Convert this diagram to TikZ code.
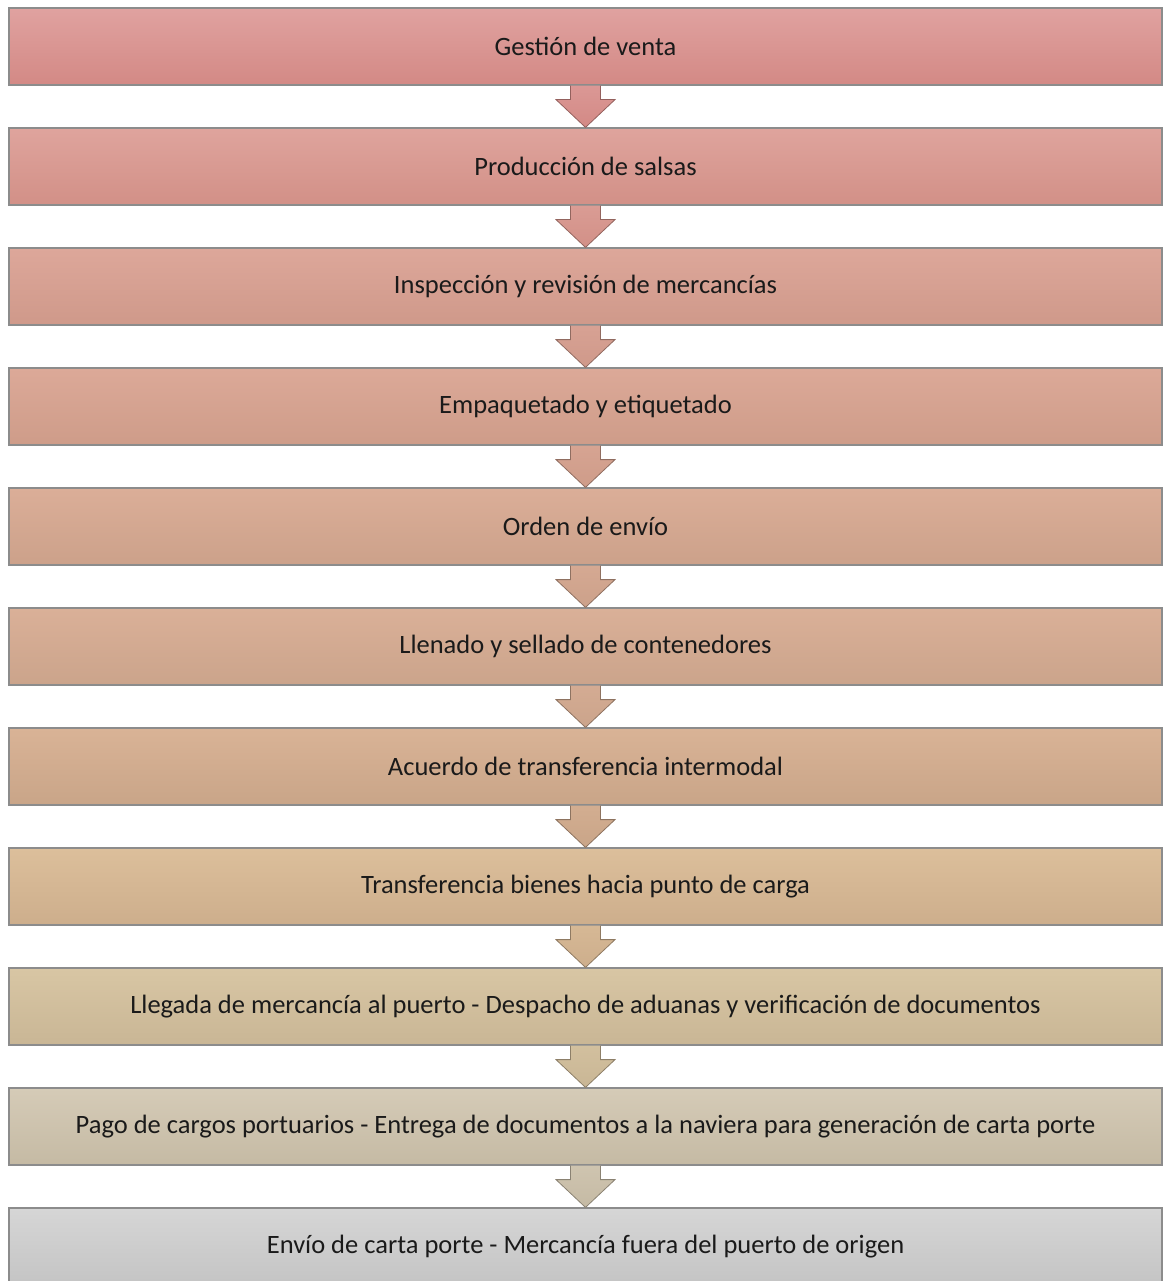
\documentclass[tikz,border=0pt]{standalone}
\usepackage{fontspec}
\setmainfont{Carlito}
\usetikzlibrary{calc,shadings}
\definecolor{tA}{HTML}{E0A2A0}\definecolor{bA}{HTML}{D38985}
\definecolor{tB}{HTML}{DFA49D}\definecolor{bB}{HTML}{D29087}
\definecolor{tC}{HTML}{DDA79A}\definecolor{bC}{HTML}{CF998A}
\definecolor{tD}{HTML}{DCA998}\definecolor{bD}{HTML}{CE9C89}
\definecolor{tE}{HTML}{DBAE98}\definecolor{bE}{HTML}{CCA18A}
\definecolor{tF}{HTML}{DAB098}\definecolor{bF}{HTML}{CBA48B}
\definecolor{tG}{HTML}{D9B396}\definecolor{bG}{HTML}{C9A588}
\definecolor{tH}{HTML}{DCBF9B}\definecolor{bH}{HTML}{CDAE8C}
\definecolor{tI}{HTML}{D8C6A4}\definecolor{bI}{HTML}{C9B695}
\definecolor{tJ}{HTML}{D5CBB7}\definecolor{bJ}{HTML}{C5BAA4}
\definecolor{tK}{HTML}{D6D6D6}\definecolor{bK}{HTML}{C4C4C4}
\definecolor{txt}{HTML}{1A1A1A}
\tikzset{
  stagebox/.style={minimum width=1153pt, minimum height=77pt, inner sep=0pt,
    draw=black!45, line width=1.2pt, text=txt,
    font=\fontsize{26.5}{30}\selectfont},
}
\newcommand{\flowarrow}[4]{%
  \path[top color=#3, bottom color=#4, draw=#4!70!black, line width=0.8pt, line join=miter]
    ($(#1.south)+(-15,0)$) -- ($(#1.south)+(-15,-14)$) -- ($(#1.south)+(-29.5,-14)$)
    -- (#2.north) -- ($(#1.south)+(29.5,-14)$) -- ($(#1.south)+(15,-14)$) -- ($(#1.south)+(15,0)$);
}
\begin{document}
\begin{tikzpicture}[x=1pt,y=1pt]
\useasboundingbox (0,0) rectangle (1165,-1281);
\node[stagebox, top color=tA, bottom color=bA] (s1) at (585.5,-46.5) {Gestión de venta};
\node[stagebox, top color=tB, bottom color=bB] (s2) at (585.5,-166.5) {Producción de salsas};
\node[stagebox, top color=tC, bottom color=bC] (s3) at (585.5,-286.5) {Inspección y revisión de mercancías};
\node[stagebox, top color=tD, bottom color=bD] (s4) at (585.5,-406.5) {Empaquetado y etiquetado};
\node[stagebox, top color=tE, bottom color=bE] (s5) at (585.5,-526.5) {Orden de envío};
\node[stagebox, top color=tF, bottom color=bF] (s6) at (585.5,-646.5) {Llenado y sellado de contenedores};
\node[stagebox, top color=tG, bottom color=bG] (s7) at (585.5,-766.5) {Acuerdo de transferencia intermodal};
\node[stagebox, top color=tH, bottom color=bH] (s8) at (585.5,-886.5) {Transferencia bienes hacia punto de carga};
\node[stagebox, top color=tI, bottom color=bI] (s9) at (585.5,-1006.5) {Llegada de mercancía al puerto - Despacho de aduanas y verificación de documentos};
\node[stagebox, top color=tJ, bottom color=bJ] (s10) at (585.5,-1126.5) {Pago de cargos portuarios - Entrega de documentos a la naviera para generación de carta porte};
\node[stagebox, top color=tK, bottom color=bK] (s11) at (585.5,-1246.5) {Envío de carta porte - Mercancía fuera del puerto de origen};
\flowarrow{s1}{s2}{tA!60!bA}{bA}
\flowarrow{s2}{s3}{tB!60!bB}{bB}
\flowarrow{s3}{s4}{tC!60!bC}{bC}
\flowarrow{s4}{s5}{tD!60!bD}{bD}
\flowarrow{s5}{s6}{tE!60!bE}{bE}
\flowarrow{s6}{s7}{tF!60!bF}{bF}
\flowarrow{s7}{s8}{tG!60!bG}{bG}
\flowarrow{s8}{s9}{tH!60!bH}{bH}
\flowarrow{s9}{s10}{tI!60!bI}{bI}
\flowarrow{s10}{s11}{tJ!60!bJ}{bJ}
\end{tikzpicture}
\end{document}
